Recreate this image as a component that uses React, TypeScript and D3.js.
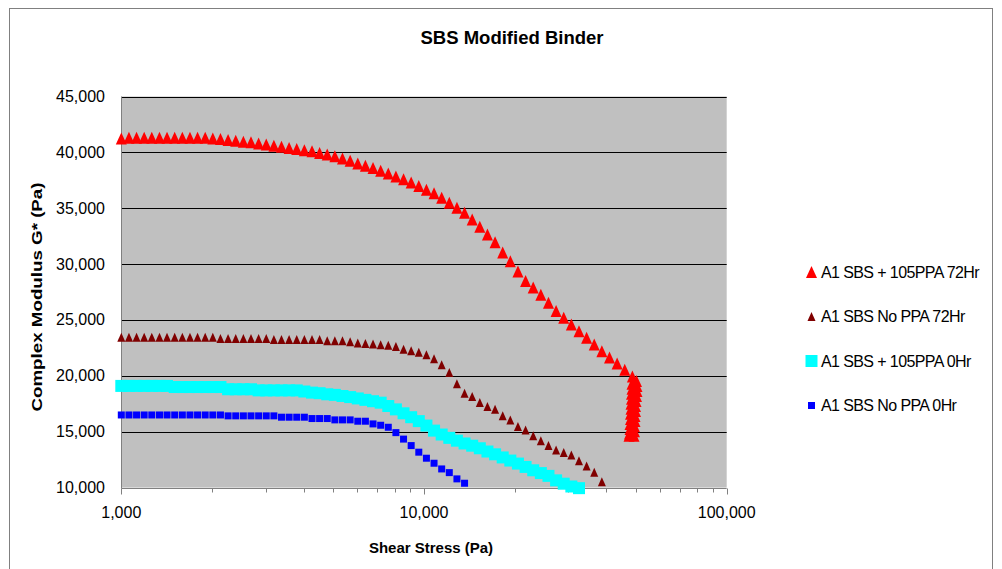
import React from "react";
import * as d3 from "d3";

// ---- Data ----
const shearStress = [
  1000, 1060, 1123, 1190, 1261, 1337, 1416, 1501, 1591, 1686,
  1786, 1893, 2006, 2126, 2253, 2388, 2531, 2682, 2842, 3012,
  3192, 3382, 3584, 3798, 4025, 4266, 4520, 4790, 5076, 5379,
  5702, 6043, 6404, 6786, 7192, 7621, 8076, 8559, 9070, 9612,
  10186, 10794, 11439, 12122, 12846, 13614, 14427, 15289, 16203, 17171,
  18197, 19284, 20436, 21657, 22951, 24322, 25775, 27315, 28947, 30676,
  32509, 34451, 36509, 38690, 41002, 43451, 46047, 48798,
];

const modulusSbsPpa72 = [
  41250, 41300, 41300, 41300, 41300, 41300, 41300, 41300, 41300, 41300,
  41300, 41300, 41250, 41200, 41100, 41050, 40950, 40900, 40800, 40700,
  40600, 40500, 40400, 40300, 40200, 40100, 39950, 39800, 39650, 39450,
  39250, 39000, 38800, 38600, 38350, 38100, 37850, 37600, 37300, 37000,
  36650, 36350, 35950, 35500, 35050, 34600, 34000, 33350, 32650, 31950,
  31050, 30250, 29350, 28500, 27900, 27250, 26550, 25800, 25200, 24600,
  24000, 23400, 22800, 22200, 21650, 21100, 20550, 19950,
];
const redTailStress = [
  50350, 48660, 50540, 48660, 50540, 48470, 50350, 48470, 50160, 48290,
  49970, 48290, 49970, 48110, 49780, 48110, 49780, 47930, 49600, 47930,
  49600, 47750, 49410, 47570,
];
const redTailModulus = [
  19550, 19300, 19100, 18850, 18650, 18400, 18200, 17950, 17750, 17500,
  17300, 17050, 16850, 16600, 16400, 16150, 15950, 15700, 15500, 15250,
  15050, 14850, 14650, 14650,
];

const modulusSbsNoPpa72 = [
  23450, 23450, 23450, 23450, 23450, 23450, 23450, 23450, 23450, 23450,
  23450, 23450, 23450, 23350, 23350, 23350, 23350, 23350, 23350, 23350,
  23250, 23250, 23250, 23250, 23250, 23250, 23250, 23150, 23150, 23150,
  23050, 22950, 22900, 22850, 22780, 22750, 22630, 22390, 22250, 22110,
  21880, 21520, 20990, 20300, 19290, 18450, 18150, 17610, 17250, 17020,
  16420, 16060, 15460, 15160, 14630, 14200, 13760, 13370, 13130, 12920,
  12410, 11940, 11370, 10530,
];

const modulusSbsPpa0 = [
  19100, 19100, 19100, 19100, 19100, 19100, 19100, 19000, 19000, 19000,
  19000, 19000, 19000, 19000, 18800, 18800, 18800, 18800, 18700, 18700,
  18700, 18700, 18700, 18700, 18600, 18500, 18450, 18350, 18300, 18200,
  18100, 17980, 17850, 17730, 17600, 17300, 17000, 16650, 16300, 15950,
  15550, 15100, 14750, 14450, 14200, 13950, 13750, 13520, 13230, 12980,
  12700, 12420, 12150, 11850, 11550, 11300, 11050, 10650, 10350, 10100,
  9950,
];

const modulusSbsNoPpa0 = [
  16500, 16500, 16500, 16500, 16500, 16500, 16500, 16500, 16500, 16500,
  16500, 16500, 16500, 16500, 16420, 16420, 16420, 16420, 16420, 16420,
  16420, 16300, 16300, 16300, 16300, 16180, 16180, 16180, 16060, 16060,
  16060, 15940, 15940, 15700, 15580, 15400, 14920, 14340, 13760, 13170,
  12630, 12180, 11670, 11340, 10780, 10390,
];

const seriesNames = [
  "A1 SBS + 105PPA 72Hr",
  "A1 SBS No PPA 72Hr",
  "A1 SBS + 105PPA 0Hr",
  "A1 SBS No PPA 0Hr",
];
const xTickValues = [1000, 10000, 100000];
const yTickValues = [10000, 15000, 20000, 25000, 30000, 35000, 40000, 45000];

const chartTitle = "SBS Modified Binder";
const xAxisTitle = "Shear Stress (Pa)";
const yAxisTitle = "Complex Modulus G* (Pa)";

// ---- Layout ----
const W = 1002;
const H = 569;
const plot = { left: 121.3, right: 726.7, top: 96.5, bottom: 487.6 };
const FONT = "Arial, 'Liberation Sans', Helvetica, sans-serif";

type Shape = "tri" | "sq";
interface Series {
  name: string;
  xs: number[];
  ys: number[];
  shape: Shape;
  w: number;
  h: number;
  color: string;
}

function marker(shape: Shape, cx: number, cy: number, w: number, h: number) {
  if (shape === "tri") {
    return `M${cx - w / 2},${cy + h / 2}L${cx},${cy - h / 2}L${cx + w / 2},${cy + h / 2}Z`;
  }
  return `M${cx - w / 2},${cy - h / 2}h${w}v${h}h${-w}Z`;
}

export default function App() {
  const x = d3.scaleLog().domain([1000, 100000]).range([plot.left, plot.right]);
  const y = d3.scaleLinear().domain([10000, 45000]).range([plot.bottom, plot.top]);
  const fmt = d3.format(",");
  const crisp = (v: number) => Math.round(v) + 0.5;

  const series: Series[] = [
    {
      name: seriesNames[0],
      xs: shearStress.concat(redTailStress),
      ys: modulusSbsPpa72.concat(redTailModulus),
      shape: "tri",
      w: 11,
      h: 12,
      color: "#FF0000",
    },
    { name: seriesNames[1], xs: shearStress, ys: modulusSbsNoPpa72, shape: "tri", w: 8, h: 9, color: "#800000" },
    { name: seriesNames[2], xs: shearStress, ys: modulusSbsPpa0, shape: "sq", w: 12, h: 12, color: "#00FFFF" },
    { name: seriesNames[3], xs: shearStress, ys: modulusSbsNoPpa0, shape: "sq", w: 7, h: 7, color: "#0000FF" },
  ];

  const allTicks = x.ticks();
  const majorSet = new Set(xTickValues);
  const axisY = crisp(plot.bottom);
  const axisX = crisp(plot.left);

  const legendX = 811.5;
  const legendY0 = 272;
  const legendStep = 44.5;

  return (
    <svg
      width={W}
      height={H}
      style={{ position: "absolute", left: 0, top: 0, background: "#fff" }}
      fontFamily={FONT}
    >
      <rect x={0} y={0} width={W} height={H} fill="#fff" />
      {/* chart border */}
      <rect x={9.5} y={8.5} width={983} height={620} fill="none" stroke="#808080" strokeWidth={1} />

      {/* title */}
      <text x={512} y={37} textAnchor="middle" dominantBaseline="central" fontWeight="bold" fontSize={18.5}>
        {chartTitle}
      </text>

      {/* plot area */}
      <rect
        x={plot.left}
        y={plot.top}
        width={plot.right - plot.left}
        height={plot.bottom - plot.top}
        fill="#C0C0C0"
      />
      {/* gridlines */}
      {yTickValues.slice(1).map((v) => (
        <line
          key={"g" + v}
          x1={plot.left}
          x2={plot.right}
          y1={crisp(y(v))}
          y2={crisp(y(v))}
          stroke="#000"
          strokeWidth={1}
        />
      ))}
      {/* axes */}
      <line x1={axisX} x2={axisX} y1={plot.top} y2={axisY} stroke="#808080" strokeWidth={1} />
      <line x1={axisX} x2={plot.right} y1={axisY} y2={axisY} stroke="#808080" strokeWidth={1} />
      {allTicks.map((t) => (
        <line
          key={"t" + t}
          x1={crisp(x(t))}
          x2={crisp(x(t))}
          y1={axisY}
          y2={axisY + (majorSet.has(t) ? 6 : 4)}
          stroke="#808080"
          strokeWidth={1}
        />
      ))}

      {/* tick labels */}
      {yTickValues.map((v) => (
        <text key={"yl" + v} x={105} y={y(v)} textAnchor="end" dominantBaseline="central" fontSize={16}>
          {fmt(v)}
        </text>
      ))}
      {xTickValues.map((v) => (
        <text key={"xl" + v} x={x(v)} y={518} textAnchor="middle" fontSize={16}>
          {fmt(v)}
        </text>
      ))}

      {/* axis titles */}
      <text x={431} y={547} textAnchor="middle" dominantBaseline="central" fontWeight="bold" fontSize={15}>
        {xAxisTitle}
      </text>
      <text
        transform="translate(37,297) rotate(-90) scale(1.25,1)"
        textAnchor="middle"
        dominantBaseline="central"
        fontWeight="bold"
        fontSize={15}
      >
        {yAxisTitle}
      </text>

      {/* series */}
      {series.map((s, si) => (
        <g key={"s" + si} fill={s.color}>
          {s.ys.map((v, i) => (
            <path key={i} d={marker(s.shape, x(s.xs[i]), y(v), s.w, s.h)} />
          ))}
        </g>
      ))}

      {/* legend */}
      {series.map((s, si) => {
        const cy = legendY0 + si * legendStep;
        return (
          <g key={"lg" + si}>
            <path d={marker(s.shape, legendX, cy, s.w, s.h)} fill={s.color} />
            <text x={821} y={cy} dominantBaseline="central" fontSize={16} letterSpacing={-0.6}>
              {s.name}
            </text>
          </g>
        );
      })}
    </svg>
  );
}
